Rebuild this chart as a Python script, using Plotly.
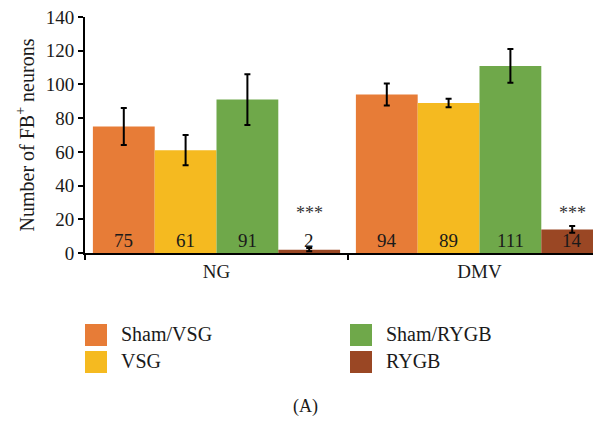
import plotly.graph_objects as go

categories = ["NG", "DMV"]
series_names = ["Sham/VSG", "VSG", "Sham/RYGB", "RYGB"]
colors = ["#E77C37", "#F5BA20", "#6FA84A", "#9A4724"]
values = {
    "Sham/VSG": [75, 94],
    "VSG": [61, 89],
    "Sham/RYGB": [91, 111],
    "RYGB": [2, 14],
}
errors = {
    "Sham/VSG": [11, 6.5],
    "VSG": [9, 2.5],
    "Sham/RYGB": [15, 10],
    "RYGB": [1, 2],
}
significance = {"RYGB": ["***", "***"]}

FONT = "Liberation Serif"
TXT = "#1a1a1a"
bargap = 0.06
# the page adds an 8px body margin; compensate so the plot area lands at 85..601 x 17..253
OFF = 8

fig = go.Figure()
for name, col in zip(series_names, colors):
    fig.add_trace(go.Bar(
        name=name, x=categories, y=values[name], marker_color=col,
        marker_line_width=0, showlegend=False,
        error_y=dict(type="data", array=errors[name], color="black",
                     thickness=2, width=3),
    ))

annotations = []
nser = len(series_names)
bw = (1 - bargap) / nser
for j, name in enumerate(series_names):
    for i, cat in enumerate(categories):
        xc = i + (j - (nser - 1) / 2) * bw
        annotations.append(dict(x=xc, y=7.3, xref="x", yref="y",
                                text=str(values[name][i]), showarrow=False,
                                font=dict(family=FONT, size=19, color=TXT),
                                yanchor="middle"))
        if name in significance:
            annotations.append(dict(x=xc, y=24.0, xref="x", yref="y",
                                    text=significance[name][i], showarrow=False,
                                    font=dict(family=FONT, size=18, color="#333333"),
                                    yanchor="middle"))

# manual legend (two columns)
shapes = []
W, H = 601, 421
leg_pos = [(85, 324), (85, 351), (350, 324), (350, 351)]
for (lx, ly), name, col in zip(leg_pos, series_names, colors):
    shapes.append(dict(type="rect", xref="paper", yref="paper",
                       x0=(lx - 85) / 516, x1=(lx + 22 - 85) / 516,
                       y0=(253 - ly) / 236, y1=(253 - ly - 22) / 236,
                       fillcolor=col, line_width=0))
    annotations.append(dict(x=(lx + 34 - 85) / 516, y=(253 - ly - 10) / 236,
                            xref="paper", yref="paper", text=name,
                            showarrow=False, xanchor="left", yanchor="middle",
                            font=dict(family=FONT, size=20, color=TXT)))
annotations.append(dict(x=(305 - 85) / 516, y=(253 - 406) / 236,
                        xref="paper", yref="paper", text="(A)", showarrow=False,
                        xanchor="center", yanchor="middle",
                        font=dict(family=FONT, size=18, color=TXT)))

fig.update_layout(
    width=W, height=H,
    margin=dict(l=85 - OFF, r=OFF, t=17 - OFF, b=421 - 253 + OFF),
    plot_bgcolor="white", paper_bgcolor="white",
    barmode="group", bargap=bargap, bargroupgap=0,
    font=dict(family=FONT, color=TXT),
    annotations=annotations, shapes=shapes,
    xaxis=dict(range=[-0.5, 1.462], tickson="boundaries", ticks="outside",
               ticklen=5, tickwidth=2, tickcolor="black",
               showline=True, linecolor="black", linewidth=2,
               tickfont=dict(family=FONT, size=19, color=TXT),
               ticklabeloverflow="allow", automargin=False,
               showgrid=False, zeroline=False),
    yaxis=dict(range=[0, 140], dtick=20, ticks="outside", ticklen=5,
               tickwidth=2, tickcolor="black", showline=True,
               linecolor="black", linewidth=2, showgrid=False, zeroline=False,
               tickfont=dict(family=FONT, size=19, color=TXT),
               ticklabeloverflow="allow", automargin=False,
               title=dict(text="Number of FB<sup>+</sup> neurons",
                          font=dict(family=FONT, size=20, color=TXT),
                          standoff=6)),
)

fig.write_html("out.html")
